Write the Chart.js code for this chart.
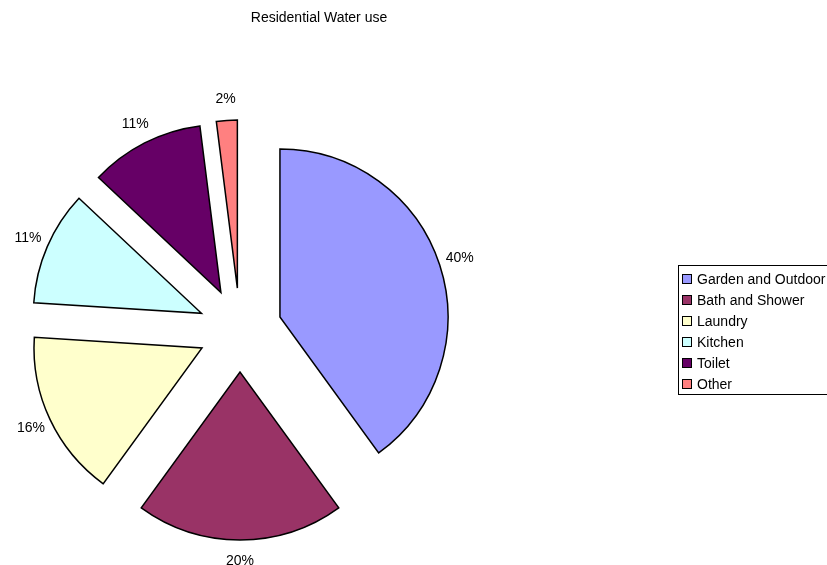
<!DOCTYPE html>
<html>
<head>
<meta charset="utf-8">
<script src="https://cdn.jsdelivr.net/npm/chart.js@4"></script>
<style>
  html, body { margin: 0; padding: 0; background: #fff; }
  #wrap { position: relative; width: 827px; height: 565px; }
</style>
</head>
<body>
<div id="wrap"><canvas id="waterChart" width="827" height="565"></canvas></div>
<script>
const categories = ['Garden and Outdoor', 'Bath and Shower', 'Laundry', 'Kitchen', 'Toilet', 'Other'];
const usePercent = [40, 20, 16, 11, 11, 2];
const sliceColors = ['#9999FF', '#993366', '#FFFFCC', '#CCFFFF', '#660066', '#FF8080'];
const chartTitle = 'Residential Water use';

const FONT = '"Liberation Sans", Arial, sans-serif';
const EXPLODE = 42;

// pie whose slices are each pushed straight out along their middle angle
class ExplodedPieController extends Chart.PieController {
    draw() {
        const ctx = this.chart.ctx;
        const area = this.chart.chartArea;
        this._cachedMeta.data.forEach(arc => {
            const mid = (arc.startAngle + arc.endAngle) / 2;
            ctx.save();
            ctx.translate(Math.cos(mid) * EXPLODE, Math.sin(mid) * EXPLODE);
            arc.draw(ctx, area);
            ctx.restore();
        });
    }
}
ExplodedPieController.id = 'explodedPie';
Chart.register(ExplodedPieController);

// percent labels just outside each slice
const sliceLabels = {
    id: 'sliceLabels',
    afterDatasetsDraw(chart) {
        const ctx = chart.ctx;
        const meta = chart.getDatasetMeta(0);
        ctx.save();
        ctx.font = '14px ' + FONT;
        ctx.fillStyle = '#000';
        ctx.textAlign = 'center';
        ctx.textBaseline = 'middle';
        meta.data.forEach((arc, i) => {
            const p = arc.getProps(['x', 'y', 'startAngle', 'endAngle', 'outerRadius'], true);
            const mid = (p.startAngle + p.endAngle) / 2;
            const r = p.outerRadius + EXPLODE + 21;
            ctx.fillText(usePercent[i] + '%', p.x + Math.cos(mid) * r, p.y + Math.sin(mid) * r);
        });
        ctx.restore();
    }
};

// title and boxed legend
const frame = {
    id: 'frame',
    afterDraw(chart) {
        const ctx = chart.ctx;
        ctx.save();
        ctx.font = '14px ' + FONT;
        ctx.fillStyle = '#000';
        ctx.textAlign = 'center';
        ctx.textBaseline = 'middle';
        ctx.fillText(chartTitle, 319, 18);

        const lx = 678, ly = 265, rowH = 21;
        ctx.strokeStyle = '#000';
        ctx.lineWidth = 1;
        ctx.strokeRect(lx + 0.5, ly + 0.5, 160, 129);
        ctx.textAlign = 'left';
        categories.forEach((name, i) => {
            const cy = ly + 14 + i * rowH;
            ctx.fillStyle = sliceColors[i];
            ctx.fillRect(lx + 4.5, cy - 4.5, 9, 9);
            ctx.strokeRect(lx + 4.5, cy - 4.5, 9, 9);
            ctx.fillStyle = '#000';
            ctx.fillText(name, lx + 19, cy + 1);
        });
        ctx.restore();
    }
};

new Chart(document.getElementById('waterChart'), {
    type: 'explodedPie',
    data: {
        labels: categories,
        datasets: [{
            data: usePercent,
            backgroundColor: sliceColors,
            borderColor: '#000',
            borderWidth: 1.5,
            borderJoinStyle: 'miter',
            radius: 168
        }]
    },
    options: {
        responsive: false,
        animation: false,
        layout: { padding: { left: 0, right: 347, top: 95, bottom: 0 } },
        plugins: {
            legend: { display: false },
            title: { display: false },
            tooltip: { enabled: false }
        }
    },
    plugins: [sliceLabels, frame]
});
</script>
</body>
</html>
